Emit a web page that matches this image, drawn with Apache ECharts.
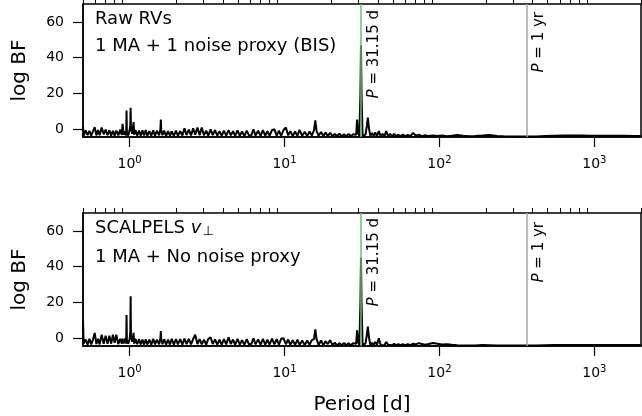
<!DOCTYPE html>
<html>
<head>
<meta charset="utf-8">
<title>log BF periodogram</title>
<script src="https://cdn.jsdelivr.net/npm/echarts@6/dist/echarts.min.js"></script>
<style>
  html, body { margin: 0; padding: 0; background: #fff; }
  #main { width: 642px; height: 416px; }
</style>
</head>
<body>
<div id="main"></div>
<script>
// periods [d] (shared frequency grid of both periodograms)
var periods = [
  0.5, 0.505, 0.52, 0.535, 0.55, 0.565, 0.58, 0.595, 0.61, 0.625,
  0.64, 0.66, 0.68, 0.70, 0.72, 0.74, 0.76, 0.78, 0.80, 0.82,
  0.845, 0.87, 0.89, 0.90, 0.915, 0.94, 0.95, 0.955, 0.96, 0.98,
  1.0, 1.01, 1.015, 1.02, 1.04, 1.06, 1.07, 1.09, 1.12, 1.15,
  1.18, 1.21, 1.24, 1.27, 1.30, 1.34, 1.38, 1.42, 1.46, 1.50,
  1.55, 1.58, 1.59, 1.60, 1.63, 1.67, 1.72, 1.77, 1.82, 1.87,
  1.93, 1.99, 2.05, 2.12, 2.19, 2.26, 2.33, 2.41, 2.49, 2.57,
  2.65, 2.74, 2.83, 2.92, 3.02, 3.12, 3.22, 3.33, 3.44, 3.56,
  3.68, 3.8, 3.93, 4.06, 4.2, 4.35, 4.5, 4.65, 4.8, 4.97,
  5.14, 5.32, 5.5, 5.7, 5.9, 6.1, 6.3, 6.5, 6.75, 7.0,
  7.25, 7.5, 7.75, 8.0, 8.3, 8.6, 8.9, 9.2, 9.5, 9.85,
  10.2, 10.55, 10.9, 11.3, 11.7, 12.1, 12.5, 13.0, 13.5, 14.0,
  14.5, 15.0, 15.5, 15.8, 16.1, 16.6, 17.2, 17.8, 18.4, 19.0,
  19.7, 20.4, 21.1, 21.8, 22.6, 23.4, 24.2, 25.0, 25.9, 26.8,
  27.7, 28.4, 29.0, 29.4, 29.8, 30.4, 30.9, 31.15, 31.4, 31.9,
  32.6, 33.3, 34.0, 34.5, 35.0, 35.8, 36.7, 37.6, 38.5, 39.5,
  40.6, 41.7, 42.9, 44.1, 45.3, 46.6, 48.0, 49.5, 51.0, 52.6,
  54.3, 56.0, 58.0, 60.0, 62.5, 65.0, 67.6, 70.5, 73.5, 77,
  81, 85, 91, 97, 104, 112, 120, 130, 142, 155,
  170, 190, 210, 235, 260, 290, 330, 370, 420, 480,
  550, 630, 720, 830, 950, 1100, 1300, 1550, 1800, 2000
];

// Raw RVs, 1 MA + 1 noise proxy (BIS)
var rawBF = [
  1.5, -3.5, -0.6, -3.2, -0.9, -3.5, -3.0, 1.2, -3.4, -0.4,
  -3.3, 1.0, -2.8, -0.2, -3.3, -0.5, -3.5, -0.8, -3.6, -0.7,
  -3.4, -0.2, -3.2, 3.0, -3.0, -1.2, -3.5, 10.5, -2.0, -3.5,
  -0.3, 2.0, 12.0, 0.0, -2.5, 4.0, -3.0, -0.4, -3.5, -0.7,
  -3.6, -0.6, -3.5, -0.4, -3.6, -1.0, -3.5, -0.6, -3.6, -0.8,
  -3.4, 0.0, 5.5, -0.5, -3.3, -0.7, -3.7, -1.0, -3.6, -1.2,
  -3.7, -0.7, -3.6, -1.0, -3.5, 0.5, -3.2, -0.2, -3.4, 0.5,
  -3.0, 1.0, -3.3, 1.0, -3.4, -0.7, -3.6, 0.0, -3.3, -0.4,
  -3.6, -1.0, -3.7, -0.7, -3.5, -0.5, -3.4, -1.0, -3.7, -0.6,
  -3.6, -1.2, -3.8, -0.7, -3.5, -3.4, 0.0, -3.5, -0.8, -3.7,
  -0.4, -3.6, -1.0, -3.7, -0.5, 0.0, -3.5, -0.8, -3.7, -0.4,
  1.0, -3.4, -1.0, -3.8, -1.2, -3.7, -0.3, -3.6, -1.4, -3.8,
  -1.2, -3.5, -0.5, 5.0, -1.0, -3.6, -1.5, -3.8, -1.8, -3.8,
  -2.0, -3.8, -2.6, -3.9, -2.4, -3.9, -2.8, -3.9, -2.6, -3.9,
  -2.8, -3.8, -3.0, 5.5, -2.0, -3.8, 20, 47, 20, -3.8,
  -3.8, -3.0, 2.0, 6.5, 1.0, -3.8, -2.0, -3.8, -1.8, -3.8,
  -1.0, -3.8, -2.5, -3.9, -1.0, -3.8, -2.5, -3.9, -2.5, -3.9,
  -3.0, -3.9, -3.0, -3.9, -3.2, -3.8, -2.0, -3.6, -3.0, -3.8,
  -3.3, -3.8, -3.5, -3.8, -3.5, -3.9, -3.6, -3.2, -3.6, -3.9,
  -3.8, -3.5, -3.2, -3.7, -3.9, -4.0, -4.0, -4.0, -4.0, -3.8,
  -3.6, -3.4, -3.4, -3.5, -3.6, -3.6, -3.6, -3.6, -3.7, -3.7
];

// SCALPELS v_perp, 1 MA + no noise proxy
var scalpelsBF = [
  10.5, -3.0, -0.7, -3.5, -0.3, -3.4, -0.7, 3.0, -3.2, -0.3,
  -3.4, 2.0, -3.0, 1.5, -3.0, 1.5, -3.0, 2.0, -2.5, 2.0,
  -3.2, -0.3, -3.0, -0.2, -2.8, 0.0, -3.0, 13.0, -1.0, -3.0,
  -0.4, 3.0, 23.5, 1.0, -2.0, 3.0, -3.0, -0.3, -3.3, -0.5,
  -3.4, -0.7, -3.5, -0.5, -3.5, -0.8, -3.5, -0.3, -3.4, -0.7,
  -3.3, 0.0, 4.0, -0.5, -3.3, -0.5, -3.5, -0.7, -3.5, -0.3,
  -3.5, -0.5, -3.4, -0.5, -3.5, -0.2, -3.3, -0.3, -3.4, -0.4,
  2.0, -3.2, -0.5, -3.4, -0.7, -3.5, -0.3, 0.5, -3.2, -0.6,
  -3.5, -0.7, -3.6, -0.5, -3.4, 0.5, -3.2, -0.7, -3.6, -0.3,
  -3.5, -1.0, -3.7, -0.5, -3.5, -3.2, 0.0, -3.4, -0.6, -3.6,
  -0.3, -3.5, -0.7, -3.6, -0.2, -3.4, -0.5, -3.6, -0.3, 0.0,
  -3.3, -0.7, -3.7, -1.0, -3.8, -0.8, -3.7, -1.2, -3.8, -1.2,
  -3.6, -1.0, -0.5, 5.0, -0.5, -3.7, -1.2, -3.8, -1.6, -3.2,
  -1.0, -3.8, -2.5, -3.9, -2.8, -3.9, -2.6, -3.9, -2.8, -3.9,
  -2.8, -3.8, -3.0, 4.5, -2.0, -3.8, 20, 45, 20, -3.8,
  -3.8, -3.0, 2.0, 6.5, 1.0, -3.8, -2.5, -3.8, -2.0, -3.6,
  0.0, -3.8, -2.8, -3.9, -2.0, -3.6, -3.0, -3.9, -3.0, -3.9,
  -3.2, -3.9, -3.2, -3.9, -3.3, -3.8, -3.0, -3.4, -2.7, -3.2,
  -3.6, -3.2, -2.6, -3.0, -3.5, -3.3, -3.6, -3.9, -4.0, -4.0,
  -4.0, -3.8, -3.9, -4.0, -4.0, -4.0, -4.0, -4.0, -4.0, -3.9,
  -3.8, -3.7, -3.7, -3.7, -3.7, -3.8, -3.8, -3.8, -3.8, -3.8
];

var planetPeriod = 31.15;
var yearPeriod = 365.25;

var xMajorTicks = [1, 10, 100, 1000];
var xMinorTicks = [0.5, 0.6, 0.7, 0.8, 0.9, 2, 3, 4, 5, 6, 7, 8, 9,
  20, 30, 40, 50, 60, 70, 80, 90, 200, 300, 400, 500, 600, 700, 800, 900, 2000];
var yTicks = [0, 20, 40, 60];

var FONT = 'DejaVu Sans';
var myChart = echarts.init(document.getElementById('main'));

var grids = [
  { left: 83, top: 4, width: 558, height: 133 },
  { left: 83, top: 213, width: 558, height: 133 }
];

function xAxes(gi) {
  var base = { gridIndex: gi, type: 'log', logBase: 10, min: 0.5, max: 2000, splitLine: { show: false } };
  return [
    echarts.util.merge({
      axisLine: { show: true, onZero: false, lineStyle: { color: '#000', width: 1.5 } },
      axisTick: { show: true, length: 10, lineStyle: { color: '#000', width: 1.2 }, customValues: xMajorTicks },
      axisLabel: {
        customValues: xMajorTicks, margin: 18, color: '#000', fontFamily: FONT,
        formatter: function (v) { return '{b|10}{s|' + Math.round(Math.log10(v)) + '}'; },
        rich: {
          b: { fontSize: 14, fontFamily: FONT, color: '#000' },
          s: { fontSize: 10, fontFamily: FONT, color: '#000', padding: [0, 0, 9, 0] }
        }
      }
    }, base, true),
    echarts.util.merge({
      axisLine: { show: false, onZero: false },
      axisTick: { show: true, length: 5, lineStyle: { color: '#000', width: 1 }, customValues: xMinorTicks },
      axisLabel: { show: false }
    }, base, true)
  ];
}

function yAxis(gi) {
  return {
    gridIndex: gi, type: 'value', min: -4.3, max: 70,
    splitLine: { show: false },
    axisLine: { show: true, lineStyle: { color: '#000', width: 1.5 } },
    axisTick: { show: true, length: 10, lineStyle: { color: '#000', width: 1.2 }, customValues: yTicks },
    axisLabel: { customValues: yTicks, color: '#000', fontSize: 14, fontFamily: FONT, margin: 19 },
    name: 'log BF', nameLocation: 'middle', nameGap: 53, nameRotate: 90,
    nameTextStyle: { color: '#000', fontSize: 20, fontFamily: FONT }
  };
}

function pairs(vals) {
  return periods.map(function (p, i) { return [p, vals[i]]; });
}

function refLines(gi) {
  return {
    type: 'line', xAxisIndex: gi * 2, yAxisIndex: gi, data: [], z: 1, silent: true,
    markLine: {
      symbol: 'none', silent: true, animation: false,
      label: { show: false },
      data: [
        { xAxis: planetPeriod, lineStyle: { color: '#6dbf6d', width: 1.5, type: 'solid' } },
        { xAxis: yearPeriod, lineStyle: { color: '#a6a6a6', width: 1.5, type: 'solid' } }
      ]
    }
  };
}

var option = {
  animation: false,
  backgroundColor: '#fff',
  textStyle: { fontFamily: FONT },
  grid: grids.map(function (g) {
    return Object.assign({ show: true, borderColor: '#000', borderWidth: 1.5, backgroundColor: 'transparent' }, g);
  }),
  xAxis: xAxes(0).concat(xAxes(1)),
  yAxis: [yAxis(0), yAxis(1)],
  series: [
    refLines(0),
    refLines(1),
    {
      name: 'Raw RVs', type: 'line', xAxisIndex: 0, yAxisIndex: 0, z: 3,
      data: pairs(rawBF), showSymbol: false,
      lineStyle: { color: '#000', width: 2 }
    },
    {
      name: 'SCALPELS', type: 'line', xAxisIndex: 2, yAxisIndex: 1, z: 3,
      data: pairs(scalpelsBF), showSymbol: false,
      lineStyle: { color: '#000', width: 2 }
    }
  ]
};
myChart.setOption(option);

// annotations: panel titles and rotated period labels
var txt = { fill: '#000', fontFamily: FONT };
function label(x, y, text, size, extra) {
  return { type: 'text', x: x, y: y, z: 10, style: Object.assign({ text: text, fontSize: size }, txt, extra || {}) };
}
function periodTag(gi, period, text, topY) {
  var px = myChart.convertToPixel({ xAxisIndex: gi * 2 }, period);
  return {
    type: 'text', x: px + 13, y: topY, rotation: Math.PI / 2, z: 10,
    style: {
      text: text, fontSize: 15, fontFamily: FONT, fill: '#000',
      align: 'right', verticalAlign: 'middle',
      rich: { i: { fontStyle: 'italic', fontSize: 15, fontFamily: FONT, fill: '#000' } }
    }
  };
}

var graphics = [
  label(95, 19, 'Raw RVs', 18, { verticalAlign: 'middle' }),
  label(95, 46, '1 MA + 1 noise proxy (BIS)', 18, { verticalAlign: 'middle' }),
  {
    type: 'text', x: 95, y: 228, z: 10,
    style: {
      text: 'SCALPELS {i|v}{s|⊥}', fontSize: 18, fontFamily: FONT, fill: '#000', verticalAlign: 'middle',
      rich: {
        i: { fontStyle: 'italic', fontSize: 18, fontFamily: FONT, fill: '#000' },
        s: { fontSize: 13, fontFamily: FONT, fill: '#000', padding: [7, 0, 0, 1] }
      }
    }
  },
  label(95, 257, '1 MA + No noise proxy', 18, { verticalAlign: 'middle' }),
  periodTag(0, planetPeriod, '{i|P} = 31.15 d', 10),
  periodTag(0, yearPeriod, '{i|P} = 1 yr', 12),
  periodTag(1, planetPeriod, '{i|P} = 31.15 d', 218),
  periodTag(1, yearPeriod, '{i|P} = 1 yr', 222),
  label(362, 405, 'Period [d]', 20, { align: 'center', verticalAlign: 'middle' })
];
myChart.setOption({ graphic: graphics });
</script>
</body>
</html>
